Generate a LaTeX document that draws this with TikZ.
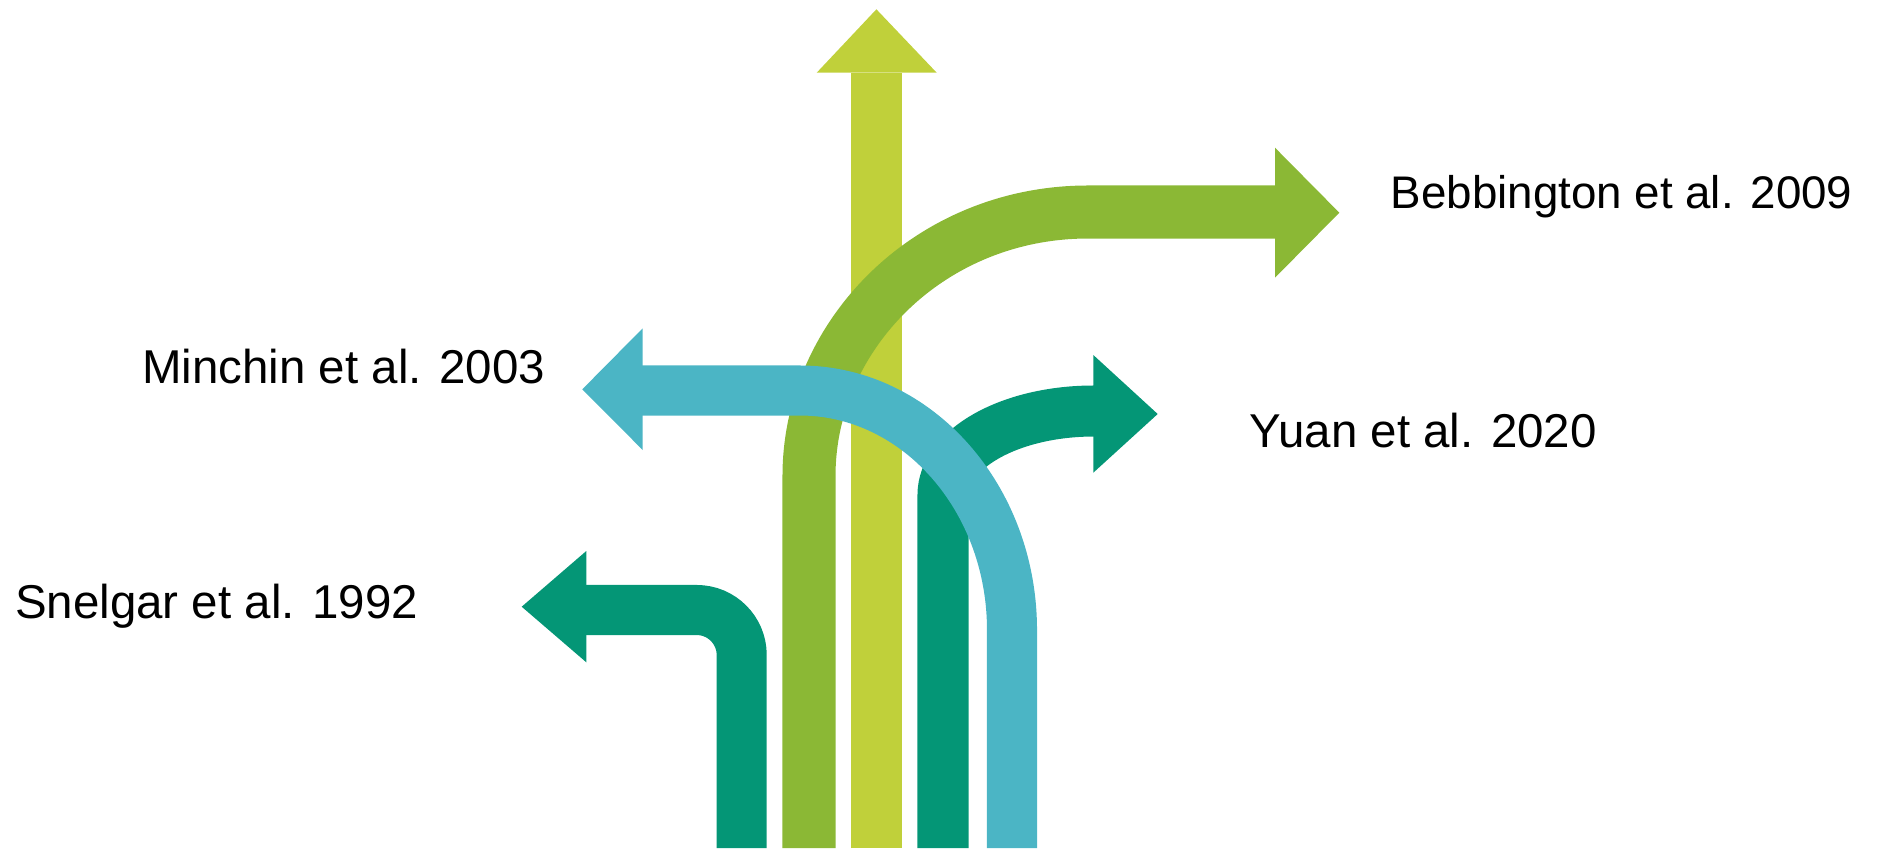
\documentclass[tikz,border=0pt]{standalone}
\usepackage{fontspec}
\setmainfont{Liberation Sans}
\usepackage{tikz}
\usetikzlibrary{calc}
\definecolor{barYellow}{HTML}{C0D03A}
\definecolor{barGreen}{HTML}{8BB835}
\definecolor{barTeal}{HTML}{049676}
\definecolor{barCyan}{HTML}{4BB5C5}
\tikzset{lbl/.style={anchor=base west, inner sep=0pt, font=\fontsize{13.5pt}{16pt}\selectfont}}

\begin{document}
\begin{tikzpicture}[x=0.01cm, y=-0.01cm]
			%%%%% START %%%%%
			\useasboundingbox (0,0) rectangle (1890,848);

			\coordinate (yelHead) at (876.4,72.7);
			\coordinate (bebHead) at (1276,212);
			\coordinate (yuanHead) at (1094,411);
			\coordinate (sneHead) at (585,610);
			\coordinate (minHead) at (641,390.5);

			% upward bar
			\draw[barYellow, line width=0.51cm] (876.4,848) -- (yelHead);
			\fill[barYellow] (816.7,72.7) -- (876.4,9.3) -- (936.7,72.7) -- cycle;

			% Bebbington
			\draw[barGreen, line width=0.53cm] (809,848) -- (809,476) .. controls (809,335) and (930,212) .. (1088,212) -- (bebHead);
			\fill[barGreen] (1275,147.7) -- (1339.3,212.7) -- (1275,277.7) -- cycle;

			% Yuan
			\draw[barTeal, line width=0.51cm] (943,848) -- (943,495) .. controls (943,449) and (1010,411) .. (yuanHead);
			\fill[barTeal] (1093.3,355) -- (1157.7,414) -- (1093.3,472.7) -- cycle;

			% Snelgar
			\draw[barTeal, line width=0.5cm, rounded corners=0.45cm] (741.7,848) -- (741.7,610) -- (sneHead);
			\fill[barTeal] (586.3,551) -- (521.7,606.7) -- (586.3,662.3) -- cycle;

			% Minchin
			\draw[barCyan, line width=0.5cm] (1012,848) -- (1012,630) .. controls (1012,498) and (917,390.5) .. (800,390.5) -- (minHead);
			\fill[barCyan] (642.7,328.3) -- (582.3,389.3) -- (642.7,450) -- cycle;

			\node[lbl, font=\fontsize{13pt}{16pt}\selectfont] (beb) at (1390,208.3) {Bebbington et al. 2009};
			\node[lbl] (yuan) at (1248.5,447) {Yuan et al. 2020};
			\node[lbl] (min) at (141.5,383.3) {Minchin et al. 2003};
			\node[lbl] (sne) at (14.5,618.3) {Snelgar et al. 1992};
			%%%%% END %%%%%
\end{tikzpicture}
\end{document}
